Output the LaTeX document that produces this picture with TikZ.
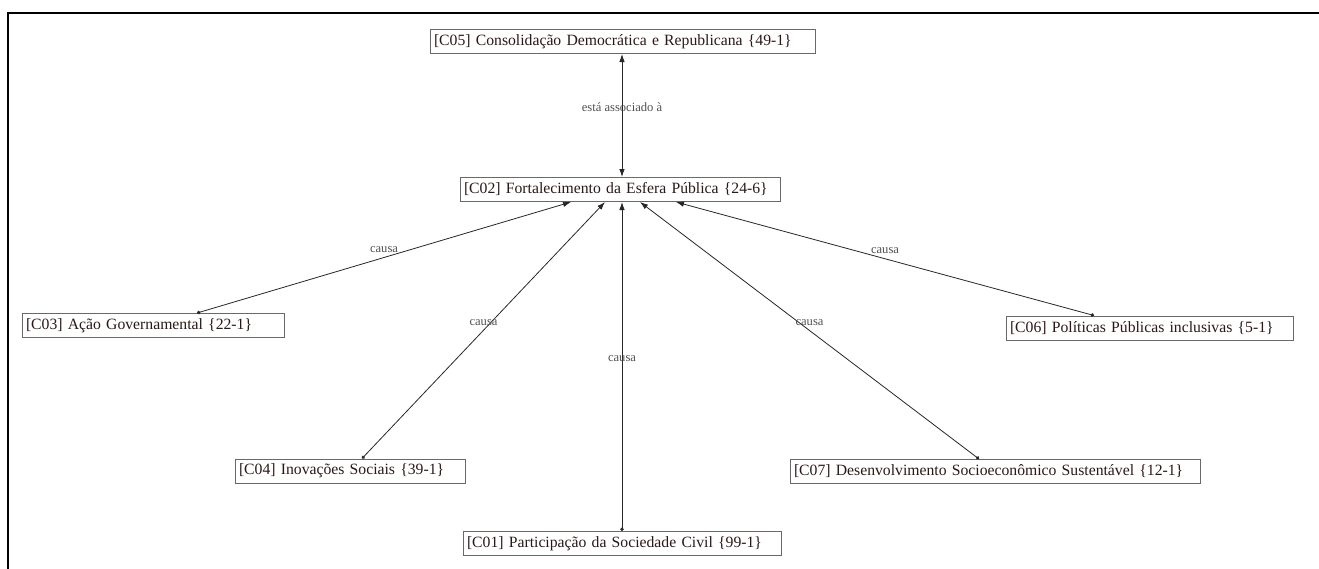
\documentclass[tikz,border=0pt]{standalone}
\usepackage{fontspec}
\setmainfont{Liberation Serif}
\usetikzlibrary{arrows.meta}

\definecolor{conceptText}{RGB}{45,24,24}
\definecolor{boxGray}{RGB}{105,105,105}
\definecolor{labelGray}{RGB}{80,80,80}

\tikzset{
  concept/.style={draw=boxGray, line width=1pt, fill=white, text=conceptText,
    inner xsep=4pt, inner ysep=0pt, minimum height=24pt, align=left,
    font=\fontsize{15.7}{18}\selectfont},
  relation/.style={draw=black!85, line width=0.8pt,
    {Circle[length=3.5pt]}-{Latex[length=8pt,width=5.5pt]}},
  rellabel/.style={text=labelGray, font=\fontsize{12.6}{14}\selectfont,
    inner sep=0pt, yshift=8pt}
}

\begin{document}
\begin{tikzpicture}[x=1pt,y=-1pt]
\useasboundingbox (0,0) rectangle (1319,568);

%% frame
\draw[line width=2.6pt] (8,570) -- (8,13) -- (1322,13);

% concepts
\node[concept, text width=377pt] (c05) at (622.5,41.5) {[C05] Consolidação Democrática e Republicana \{49-1\}};
\node[concept, text width=312pt] (c02) at (620,189.5) {[C02] Fortalecimento da Esfera Pública \{24-6\}};
\node[concept, text width=254pt] (c03) at (153,325.5) {[C03] Ação Governamental \{22-1\}};
\node[concept, text width=279pt] (c06) at (1149.5,328) {[C06] Políticas Públicas inclusivas \{5-1\}};
\node[concept, text width=222pt] (c04) at (350,471) {[C04] Inovações Sociais \{39-1\}};
\node[concept, text width=402pt] (c07) at (995,471.5) {[C07] Desenvolvimento Socioeconômico Sustentável \{12-1\}};
\node[concept, text width=310pt] (c01) at (622,543.5) {[C01] Participação da Sociedade Civil \{99-1\}};

% C05 <-> C02
\draw[draw=black!85, line width=0.8pt, {Latex[length=8pt,width=5.5pt]}-{Latex[length=8pt,width=5.5pt]}]
  ([xshift=-0.5pt]c05.south) -- ([xshift=2pt]c02.north)
  node[rellabel, pos=0.5] {está associado à};

% causa
\draw[relation] ([xshift=44pt]c03.north) -- ([xshift=-49pt]c02.south)
  node[rellabel, pos=0.5] {causa};
\draw[relation] ([xshift=12pt]c04.north) -- ([xshift=-15pt]c02.south)
  node[rellabel, pos=0.5] {causa};
\draw[relation] (c01.north) -- ([xshift=2pt]c02.south)
  node[rellabel, pos=0.5] {causa};
\draw[relation] ([xshift=-16pt]c07.north) -- ([xshift=20pt]c02.south)
  node[rellabel, pos=0.5] {causa};
\draw[relation] ([xshift=-55.5pt]c06.north) -- ([xshift=56pt]c02.south)
  node[rellabel, pos=0.5] {causa};

\end{tikzpicture}
\end{document}
